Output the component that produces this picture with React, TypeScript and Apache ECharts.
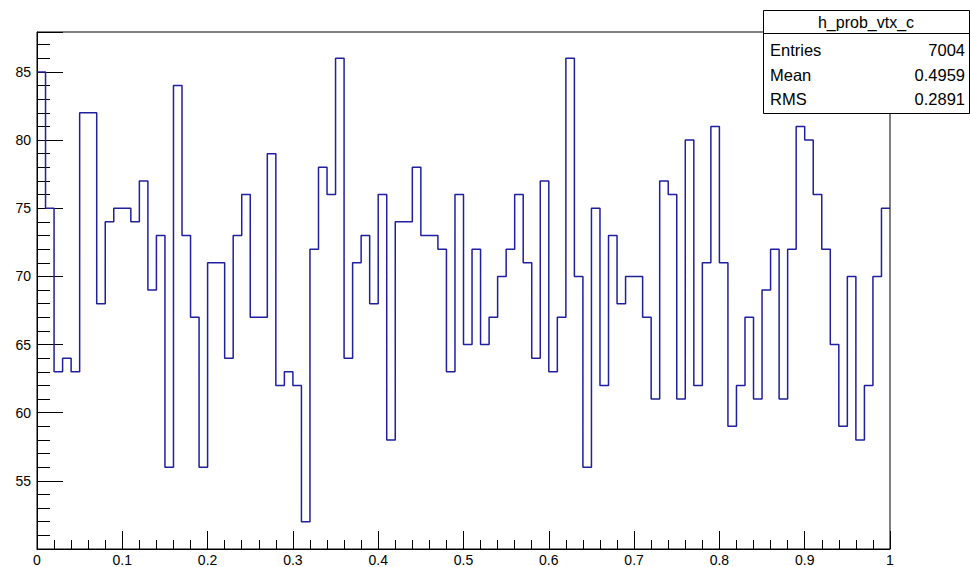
import { useEffect, useRef } from "react";
import * as echarts from "echarts";

// h_prob_vtx_c: 100 bins over [0, 1]
const binCounts = [
  85, 75, 63, 64, 63, 82, 82, 68, 74, 75,
  75, 74, 77, 69, 73, 56, 84, 73, 67, 56,
  71, 71, 64, 73, 76, 67, 67, 79, 62, 63,
  62, 52, 72, 78, 76, 86, 64, 71, 73, 68,
  76, 58, 74, 74, 78, 73, 73, 72, 63, 76,
  65, 72, 65, 67, 70, 72, 76, 71, 64, 77,
  63, 67, 86, 70, 56, 75, 62, 73, 68, 70,
  70, 67, 61, 77, 76, 61, 80, 62, 71, 81,
  71, 59, 62, 67, 61, 69, 72, 61, 72, 81,
  80, 76, 72, 65, 59, 70, 58, 62, 70, 75,
];
const statLabels = ["Entries", "Mean", "RMS"];
const statValues = ["7004", "0.4959", "0.2891"];
const histName = "h_prob_vtx_c";

const font = "'Liberation Sans', Arial, sans-serif";

function App() {
  const chartRef = useRef<HTMLDivElement>(null);

  useEffect(() => {
    const chart = echarts.init(chartRef.current, null, { renderer: "svg" });
    const n = binCounts.length;
    const points = binCounts.map((v, i) => [i / n, v]);
    points.push([1, binCounts[n - 1]]);

    const statTexts: any[] = [];
    statLabels.forEach((label, i) => {
      const y = 50 + i * 24.5;
      statTexts.push({
        type: "text", x: 770, y,
        style: { text: label, font: `16.5px ${font}`, fill: "#000", textVerticalAlign: "middle" },
      });
      statTexts.push({
        type: "text", x: 965, y,
        style: { text: statValues[i], font: `16.5px ${font}`, fill: "#000", textAlign: "right", textVerticalAlign: "middle" },
      });
    });

    chart.setOption({
      animation: false,
      grid: { left: 37, right: 80, top: 32, bottom: 18, show: true, borderColor: "#000", borderWidth: 1, backgroundColor: "#fff" },
      xAxis: {
        type: "value", min: 0, max: 1, interval: 0.1,
        axisLine: { lineStyle: { color: "#000" } },
        axisTick: { inside: true, length: 18, lineStyle: { color: "#000" } },
        minorTick: { show: true, splitNumber: 5, length: 9, lineStyle: { color: "#000" } },
        splitLine: { show: false },
        axisLabel: { color: "#000", fontFamily: font, fontSize: 14, margin: 4, formatter: (v: number) => String(+v.toFixed(1)) },
      },
      yAxis: {
        type: "value", min: 50, max: 87.93, interval: 5,
        axisLine: { lineStyle: { color: "#000" } },
        axisTick: { inside: true, length: 26, lineStyle: { color: "#000" } },
        minorTick: { show: true, splitNumber: 5, length: 13, lineStyle: { color: "#000" } },
        splitLine: { show: false },
        axisLabel: {
          color: "#000", fontFamily: font, fontSize: 14, margin: 6, showMaxLabel: false,
          formatter: (v: number) => (v === 50 ? "" : String(v)),
        },
      },
      series: [
        {
          type: "line", step: "end", data: points, symbol: "none",
          lineStyle: { color: "#1f1f9f", width: 1.5 },
        },
      ],
      graphic: [
        {
          type: "group",
          children: [
            { type: "rect", shape: { x: 763.5, y: 10.5, width: 206, height: 103 }, style: { fill: "#fff", stroke: "#000", lineWidth: 1 } },
            { type: "line", shape: { x1: 763.5, y1: 33.5, x2: 970, y2: 33.5 }, style: { stroke: "#000", lineWidth: 1 } },
            {
              type: "text", x: 866, y: 22,
              style: { text: histName, font: `16px ${font}`, fill: "#000", textAlign: "center", textVerticalAlign: "middle" },
            },
            ...statTexts,
          ],
        },
      ],
    });
    return () => chart.dispose();
  }, []);

  return <div ref={chartRef} style={{ position: "fixed", left: 0, top: 0, width: 970, height: 567, background: "#fff" }} />;
}

export default App;
